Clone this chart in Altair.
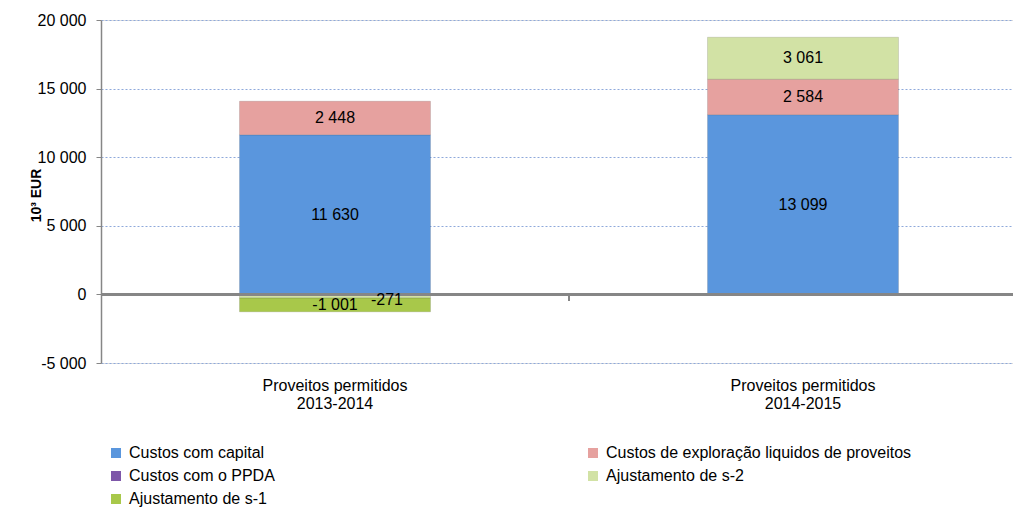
import altair as alt
import pandas as pd

categories = ["Proveitos permitidos|2013-2014", "Proveitos permitidos|2014-2015"]
series = [
    "Custos com capital",
    "Custos de exploração liquidos de proveitos",
    "Custos com o PPDA",
    "Ajustamento de s-2",
    "Ajustamento de s-1",
]
colors = ["#5A96DD", "#E6A19F", "#7E57A9", "#D2E2A5", "#A8C84A"]

custos_capital = [11630, 13099]
custos_exploracao = [2448, 2584]
custos_ppda = [0, 0]
ajustamento_s2 = [-271, 3061]
ajustamento_s1 = [-1001, 0]

y_ticks = [-5000, 0, 5000, 10000, 15000, 20000]

values_by_series = [custos_capital, custos_exploracao, custos_ppda, ajustamento_s2, ajustamento_s1]
rows = []
for si, (name, vals) in enumerate(zip(series, values_by_series)):
    for ci, cat in enumerate(categories):
        rows.append({"cat": cat, "serie": name, "order": si, "value": vals[ci]})
df = pd.DataFrame(rows)

W = 912
H = 343
XR = 936

x_enc = alt.X(
    "cat:N",
    scale=alt.Scale(domain=categories, range=[0, XR], paddingInner=0.592, paddingOuter=0.296),
    axis=alt.Axis(
        title=None,
        labelExpr="split(datum.label, '|')",
        labelFontSize=16,
        labelColor="#000000",
        labelAngle=0,
        labelPadding=14,
        labelLineHeight=18,
        domain=False,
        ticks=False,
    ),
)

y_scale = alt.Scale(domain=[-5000, 20000], nice=False, zero=False)
y_axis = alt.Axis(
    values=y_ticks,
    labelExpr="replace(replace(format(datum.value, ','), ',', ' '), '\u2212', '-')",
    labelFontSize=16,
    labelColor="#000000",
    labelPadding=10,
    tickSize=5,
    tickColor="#868686",
    domainColor="#868686",
    domainWidth=1.5,
    gridColor="#8EA9DB",
    gridDash=[2, 2],
    gridWidth=1,
    title="10³ EUR",
    titleFontSize=14,
    titleFontWeight="bold",
    titleColor="#000000",
    titleX=-58,
    titleY=175,
)

base = alt.Chart(df).transform_filter("datum.value != 0").transform_stack(
    stack="value", as_=["y0", "y1"], groupby=["cat"], sort=[alt.SortField("order")]
).transform_calculate(
    mid="(datum.y0 + datum.y1) / 2",
    label="replace(replace(format(datum.value, ','), ',', ' '), '\u2212', '-')",
)

bars = base.mark_bar(stroke="#000000", strokeOpacity=0.12, strokeWidth=1).encode(
    x=x_enc,
    y=alt.Y("y0:Q", scale=y_scale, axis=y_axis),
    y2="y1:Q",
    color=alt.Color(
        "serie:N",
        scale=alt.Scale(domain=series, range=colors),
        legend=alt.Legend(
            title=None,
            orient="none",
            direction="horizontal",
            legendX=7,
            legendY=425,
            columns=2,
            columnPadding=310,
            rowPadding=7,
            symbolType="square",
            symbolSize=100,
            symbolStrokeWidth=0,
            labelFontSize=16,
            labelColor="#000000",
            labelOffset=5,
            labelLimit=600,
            padding=0,
        ),
    ),
)

labels_big = base.transform_filter("abs(datum.value) >= 500").mark_text(
    fontSize=16, color="#000000", baseline="middle"
).encode(x=alt.X("cat:N"), y=alt.Y("mid:Q"), text="label:N")

labels_small = base.transform_filter("abs(datum.value) < 500").mark_text(
    fontSize=16, color="#000000", baseline="middle", dx=52, dy=4
).encode(x=alt.X("cat:N"), y=alt.Y("mid:Q"), text="label:N")

zero_line = alt.Chart(df).mark_rule(color="#868686", strokeWidth=2).encode(
    y=alt.datum(0), x=alt.value(0), x2=alt.value(XR)
)
divider = alt.Chart(df).mark_rule(color="#868686", strokeWidth=1.5).encode(
    x=alt.value(XR / 2), y=alt.datum(0), y2=alt.datum(-450)
)

chart = alt.layer(bars, zero_line, divider, labels_big, labels_small).properties(
    width=W,
    height=H,
    autosize=alt.AutoSizeParams(type="none"),
    padding={"left": 93, "top": 12, "right": 0, "bottom": 150},
).configure_view(stroke=None).configure(font="Liberation Sans")

chart.save("out.html", embed_options={"renderer": "svg", "actions": False})
